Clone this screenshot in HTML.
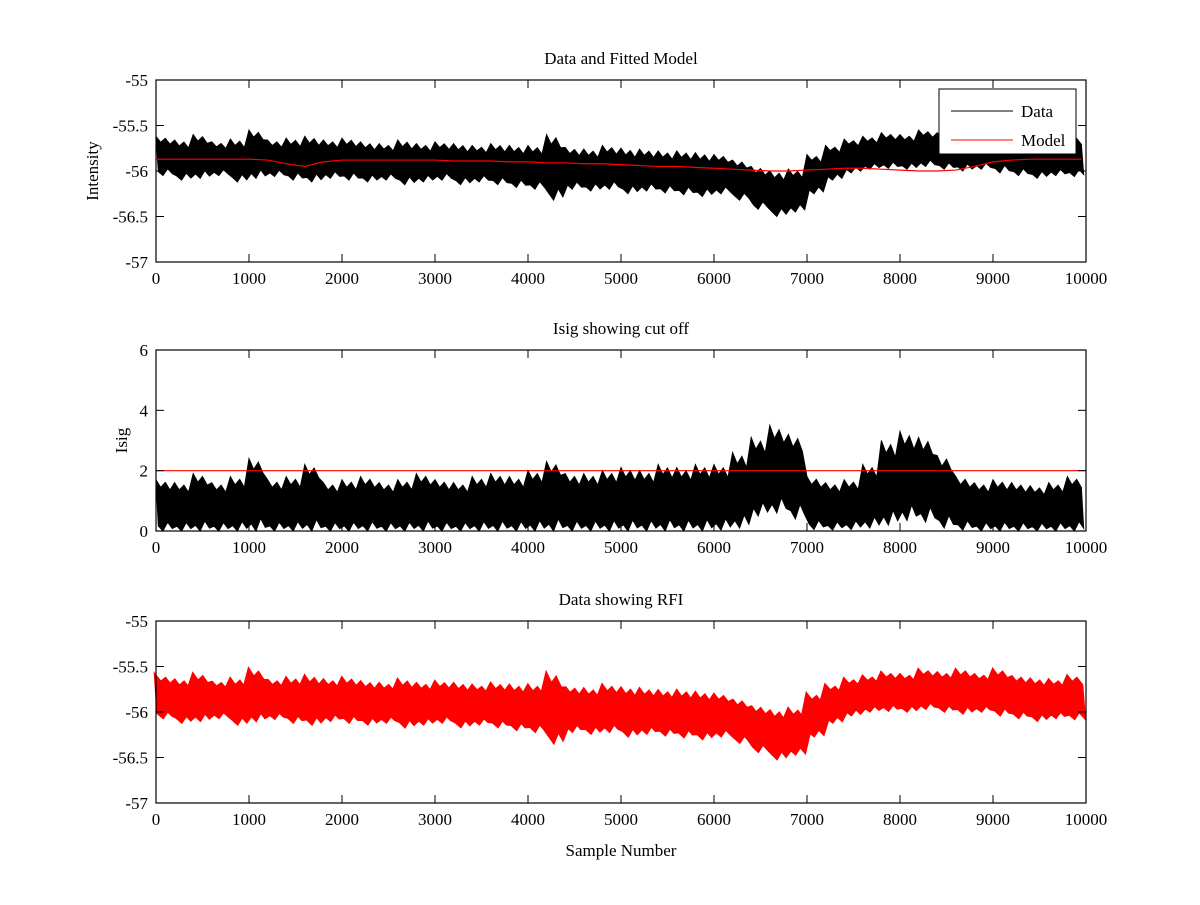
<!DOCTYPE html>
<html><head><meta charset="utf-8"><style>
body{margin:0;background:#fff}
svg text{font-family:"Liberation Serif",serif;font-size:17px;fill:#000}
</style></head><body>
<svg id="c" width="1200" height="900"></svg>
<script>
const samples=[];for(let i=0;i<50;i++)samples.push(i*200);
const xTicks=[0,1000,2000,3000,4000,5000,6000,7000,8000,9000,10000];
const intTicks=[-55,-55.5,-56,-56.5,-57];
const isigTicks=[0,2,4,6];
const dataHi=[-55.62,-55.66,-55.6,-55.68,-55.65,-55.55,-55.66,-55.64,-55.62,-55.66,
-55.64,-55.68,-55.7,-55.66,-55.7,-55.68,-55.7,-55.72,-55.7,-55.72,
-55.72,-55.6,-55.74,-55.76,-55.72,-55.75,-55.76,-55.78,-55.78,-55.8,
-55.82,-55.88,-55.95,-56.0,-55.98,-55.82,-55.72,-55.65,-55.62,-55.58,
-55.6,-55.55,-55.58,-55.55,-55.6,-55.55,-55.62,-55.65,-55.66,-55.62];
const dataLo=[-56.05,-56.1,-56.08,-56.05,-56.12,-56.08,-56.06,-56.1,-56.12,-56.08,
-56.1,-56.12,-56.1,-56.15,-56.12,-56.1,-56.15,-56.12,-56.15,-56.18,
-56.2,-56.32,-56.2,-56.22,-56.2,-56.25,-56.22,-56.24,-56.26,-56.28,
-56.25,-56.32,-56.42,-56.5,-56.45,-56.25,-56.1,-56.02,-55.98,-55.97,
-55.98,-55.95,-55.98,-56.0,-55.98,-56.02,-56.05,-56.08,-56.05,-56.06];
const modelVals=[-55.87,-55.87,-55.87,-55.87,-55.87,-55.87,-55.88,-55.92,-55.95,-55.9,
-55.88,-55.88,-55.88,-55.88,-55.88,-55.88,-55.89,-55.89,-55.89,-55.9,
-55.9,-55.91,-55.91,-55.92,-55.92,-55.93,-55.94,-55.95,-55.95,-55.96,
-55.97,-55.98,-55.99,-56.0,-56.0,-55.99,-55.98,-55.97,-55.97,-55.98,
-55.99,-56.0,-56.0,-55.99,-55.95,-55.9,-55.88,-55.87,-55.87,-55.87];
const isigHi=[1.7,1.6,1.9,1.6,1.8,2.4,1.7,1.8,2.2,1.6,
1.7,1.8,1.6,1.7,1.9,1.7,1.6,1.8,1.9,1.8,
2.0,2.3,1.9,1.9,2.0,2.1,2.0,2.2,2.1,2.2,
2.2,2.6,3.1,3.5,3.2,1.8,1.6,1.7,2.2,3.0,
3.3,3.1,2.5,1.8,1.6,1.7,1.6,1.5,1.6,1.8];
const isigLo=[0,0,0,0,0,0,0,0,0,0,0,0,0,0,0,0,0,0,0,0,0,0,0,0,0,0,0,0,0,0,
0.03,0.1,0.5,0.6,0.4,0.05,0.03,0.05,0.1,0.2,0.35,0.3,0.1,0.03,0,0,0,0,0,0];
const cutoff=2;

const svg=document.getElementById('c');const NS='http://www.w3.org/2000/svg';
function el(t,a,p){const e=document.createElementNS(NS,t);for(const k in a)e.setAttribute(k,a[k]);(p||svg).appendChild(e);return e;}
const X0=156,X1=1086;
const sx=v=>X0+(v/10000)*(X1-X0);
function makeY(top,bot,vmax,vmin){return v=>top+(vmax-v)/(vmax-vmin)*(bot-top);}
function band(g,hi,lo,sy,color){
  let up=[],dn=[];
  for(let i=0;i<samples.length;i++){
    for(let k=0;k<4;k++){
      const s=samples[i]+k*50; if(s>9950)break;
      const mid=(hi[i]+lo[i])/2;
      up.push(sx(s)+','+sy(mid+(hi[i]-mid)*[1,0.7,0.9,0.6][k]));
      dn.push(sx(s+25)+','+sy(mid+(lo[i]-mid)*[0.8,1,0.65,0.9][k]));
    }
  }
  return el('polygon',{points:up.concat(dn.reverse()).join(' '),fill:color,stroke:color,'stroke-width':1},g);
}
function axes(g,top,bot,yt,sy,title,ylab,ylx){
  const fr=el('rect',{x:X0,y:top,width:X1-X0,height:bot-top,fill:'none',stroke:'#000','stroke-width':1.2},g);
  
  xTicks.forEach(t=>{const x=sx(t);el('line',{x1:x,x2:x,y1:bot,y2:bot-8,stroke:'#000'},g);el('line',{x1:x,x2:x,y1:top,y2:top+8,stroke:'#000'},g);
    const tx=el('text',{x:x,y:bot+22,'text-anchor':'middle'},g);tx.textContent=t;
    });
  yt.forEach(t=>{const y=sy(t);el('line',{x1:X0,x2:X0+8,y1:y,y2:y,stroke:'#000'},g);el('line',{x1:X1,x2:X1-8,y1:y,y2:y,stroke:'#000'},g);
    const tx=el('text',{x:X0-8,y:y+6,'text-anchor':'end'},g);tx.textContent=t;
    });
  const ti=el('text',{x:621,y:top-16,'text-anchor':'middle'},g);ti.textContent=title;
  
  const yl=el('text',{x:ylx,y:(top+bot)/2,'text-anchor':'middle',transform:`rotate(-90 ${ylx} ${(top+bot)/2})`},g);yl.textContent=ylab;
  
}
let g=el('g',{});
let y1=makeY(80,262,-55,-57);
let b=band(g,dataHi,dataLo,y1,'#000');
let m=el('polyline',{points:samples.map((s,i)=>sx(s)+','+y1(modelVals[i])).join(' ')+' '+sx(9950)+','+y1(modelVals[49]),fill:'none',stroke:'#f00','stroke-width':1.2},g);

axes(g,80,262,intTicks,y1,'Data and Fitted Model','Intensity',98);
let lg=el('g',{},g);
el('rect',{x:939,y:89,width:137,height:65,fill:'#fff',stroke:'#000'},lg);
el('line',{x1:951,x2:1013,y1:111,y2:111,stroke:'#000'},lg);
el('line',{x1:951,x2:1013,y1:140,y2:140,stroke:'#f00'},lg);
let t=el('text',{x:1021,y:117},lg);t.textContent='Data';
t=el('text',{x:1021,y:146},lg);t.textContent='Model';
g=el('g',{});
let y2=makeY(350,531,6,0);
b=band(g,isigHi,isigLo,y2,'#000');
let cl=el('line',{x1:X0,x2:X1,y1:y2(cutoff),y2:y2(cutoff),stroke:'#f00','stroke-width':1.2},g);

axes(g,350,531,isigTicks,y2,'Isig showing cut off','Isig',127);
g=el('g',{});
let y3=makeY(621,803,-55,-57);
b=band(g,dataHi,dataLo,y3,'#f00');
b.setAttribute('stroke-width',4);
axes(g,621,803,intTicks,y3,'Data showing RFI','',96);
t=el('text',{x:621,y:856,'text-anchor':'middle'});t.textContent='Sample Number';

</script>
</body></html>
